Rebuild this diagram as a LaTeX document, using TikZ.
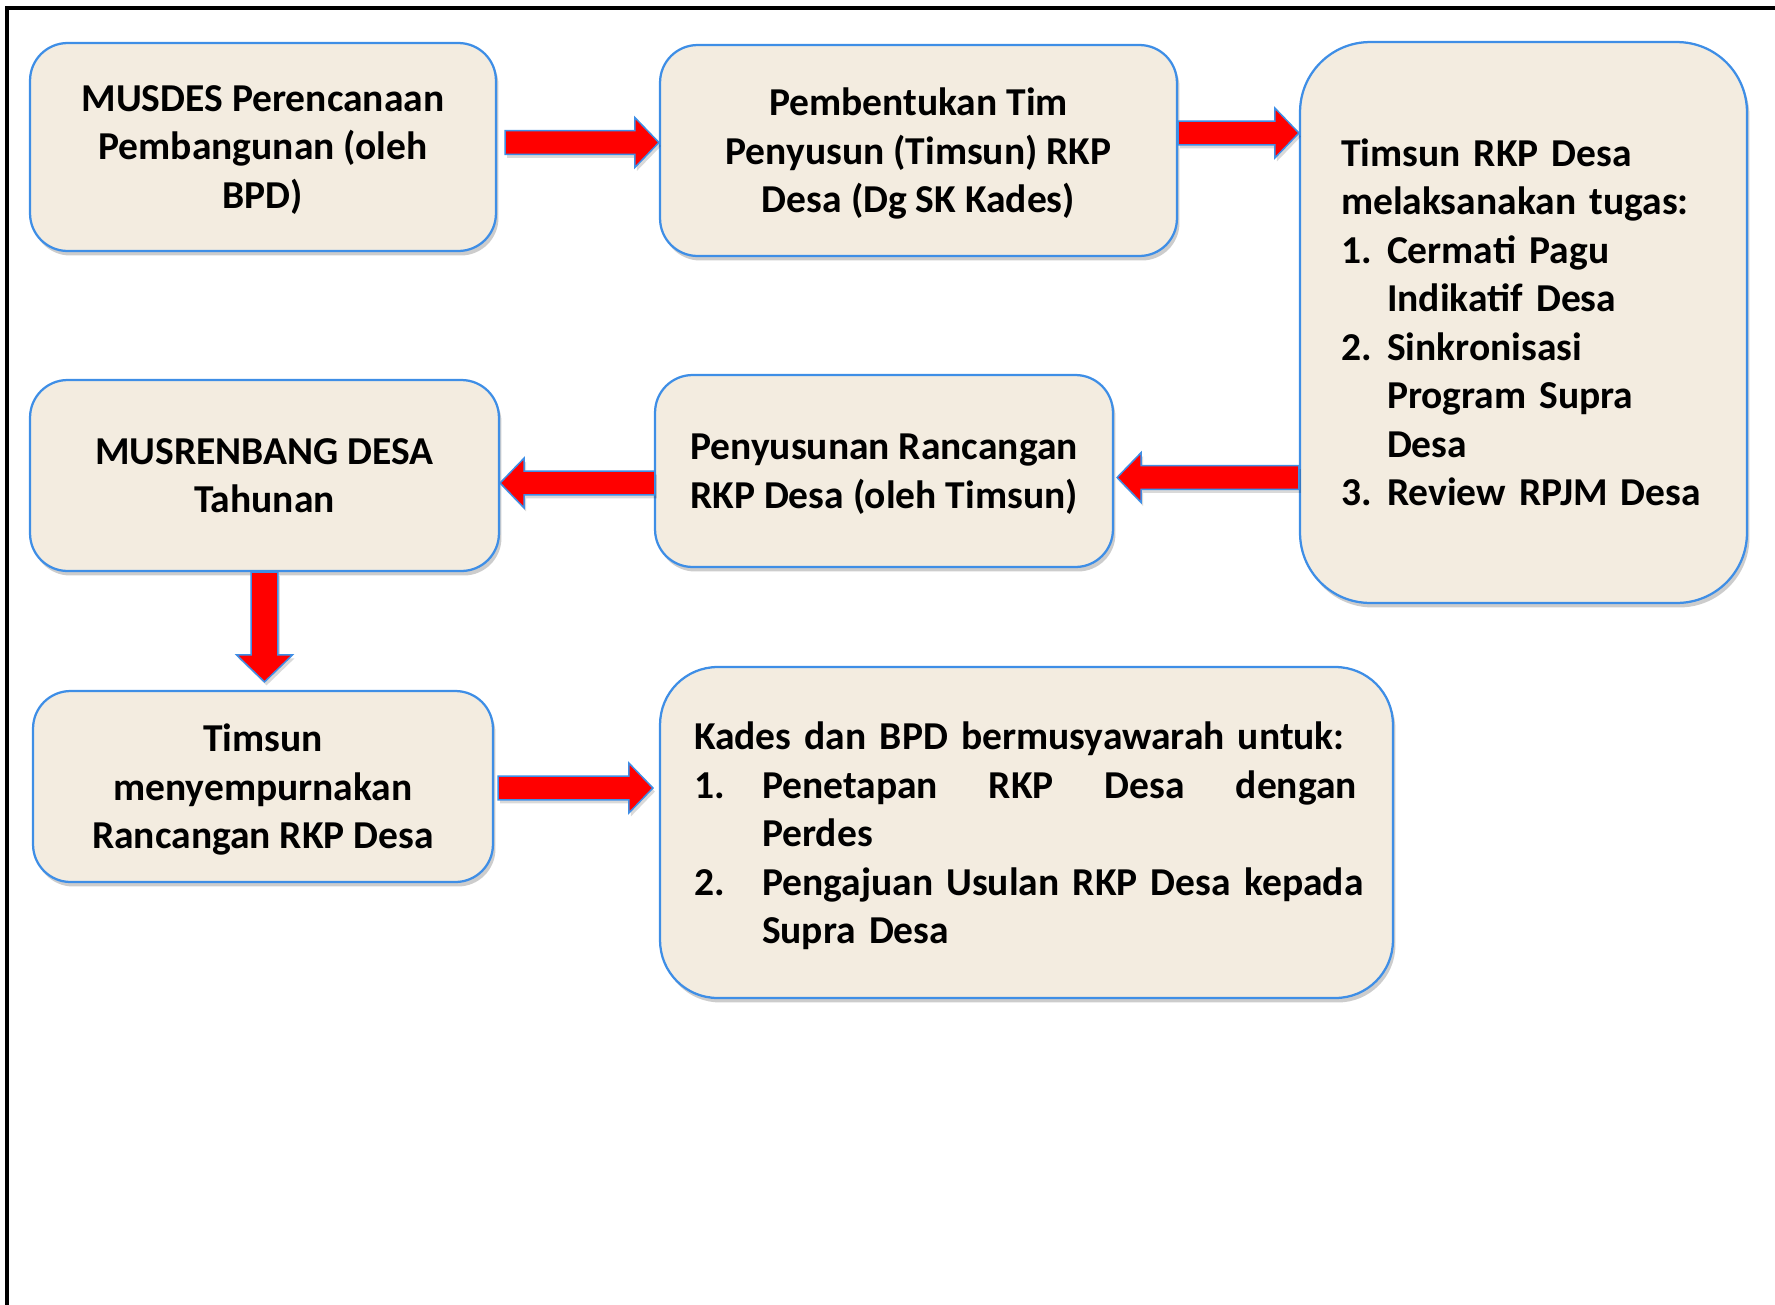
\documentclass[tikz,border=0pt]{standalone}
\usepackage{fontspec}
\setmainfont{Carlito}
\usetikzlibrary{calc,shadows}
\definecolor{boxfill}{RGB}{243,236,224}
\definecolor{boxline}{RGB}{62,142,230}
\tikzset{
  box/.style={draw=boxline, fill=boxfill, line width=0.045cm, rounded corners=0.75cm,
    drop shadow={shadow xshift=0.05cm, shadow yshift=-0.09cm, opacity=0.2, fill=black},
    inner sep=0pt, text depth=0pt, align=center, font=\fontsize{22.5}{27.6}\selectfont\bfseries},
  listbox/.style={box, text depth={}, align=left},
  redarrow/.style={draw=boxline, fill=red, line width=0.03cm, line join=miter,
    drop shadow={shadow xshift=0.04cm, shadow yshift=-0.07cm, opacity=0.15, fill=black}}
}
% block arrow from #2 to #3, #1 scales its width
\newcommand{\fatarrow}[3][1]{%
  \draw[redarrow] let \p1=(#2), \p2=(#3),
    \n1={atan2(\y2-\y1,\x2-\x1)}, \n2={veclen(\x2-\x1,\y2-\y1)} in
    [shift={(\p1)}, rotate=\n1]
    (0pt,{-#1*6.8pt}) -- ({\n2-#1*13.7pt},{-#1*6.8pt}) -- ({\n2-#1*13.7pt},{-#1*14.2pt})
    -- ({\n2+0pt},0pt) -- ({\n2-#1*13.7pt},{#1*14.2pt}) -- ({\n2-#1*13.7pt},{#1*6.8pt})
    -- (0pt,{#1*6.8pt}) -- cycle;}
\newcommand{\numitem}[2]{\makebox[#1][l]{#2}}
\begin{document}
\begin{tikzpicture}[x=0.02cm, y=-0.02cm]
\useasboundingbox (0,0) rectangle (1775,1305);
% Frame
\draw[line width=0.08cm] (7,1330) -- (7,8) -- (1800,8);
% Boxes
\node[box, minimum width=9.32cm, minimum height=4.16cm] (musdes) at (263,147)
  {MUSDES Perencanaan\\Pembangunan (oleh\\BPD)};
\node[box, minimum width=10.34cm, minimum height=4.22cm] (timbentuk) at (918.5,150.5)
  {Pembentukan Tim\\Penyusun (Timsun) RKP\\Desa (Dg SK Kades)};
\node[listbox, minimum width=8.94cm, minimum height=11.22cm, rounded corners=1.4cm,
  text width=7.3cm] (tugas) at (1523.5,322.5)
  {Timsun RKP Desa\\
   melaksanakan tugas:\\
   \numitem{0.92cm}{1.}Cermati Pagu\\
   \hspace*{0.92cm}Indikatif Desa\\
   \numitem{0.92cm}{2.}Sinkronisasi\\
   \hspace*{0.92cm}Program Supra\\
   \hspace*{0.92cm}Desa\\
   \numitem{0.92cm}{3.}Review RPJM Desa};
\node[box, minimum width=9.38cm, minimum height=3.82cm] (musrenbang) at (264.5,475.5)
  {MUSRENBANG DESA\\Tahunan};
\node[box, minimum width=9.16cm, minimum height=3.84cm] (rancangan) at (884,471)
  {Penyusunan Rancangan\\RKP Desa (oleh Timsun)};
\node[box, minimum width=9.2cm, minimum height=3.82cm] (penyempurnaan) at (263,786.5)
  {Timsun\\menyempurnakan\\Rancangan RKP Desa};
\node[listbox, minimum width=14.66cm, minimum height=6.62cm, rounded corners=1.15cm,
  text width=13.3cm, text height=19.6pt] (musyawarah) at (1026.5,832.5)
  {Kades dan BPD bermusyawarah untuk:\\
   \numitem{1.36cm}{1.}\makebox[11.9cm][l]{Penetapan\hfill RKP\hfill Desa\hfill dengan}\\
   \hspace*{1.36cm}Perdes\\
   \numitem{1.36cm}{2.}\mbox{Pengajuan Usulan RKP Desa kepada}\\
   \hspace*{1.36cm}Supra Desa};
% Arrows
\coordinate (a1s) at ($(musdes.east)+(8,-4.5)$);
\fatarrow{a1s}{a1s -| timbentuk.west}
\coordinate (a2s) at ($(timbentuk.east)+(0,-17.5)$);
\fatarrow{a2s}{a2s -| tugas.west}
\coordinate (a3e) at ($(rancangan.east)+(3,6.5)$);
\fatarrow{a3e -| tugas.west}{a3e}
\coordinate (a4s) at ($(rancangan.west)+(1,12)$);
\fatarrow{a4s}{a4s -| musrenbang.east}
\coordinate (a5e) at ($(penyempurnaan.north)+(0,-8)$);
\fatarrow[1.12]{musrenbang.south}{musrenbang.south |- a5e}
\coordinate (a6s) at ($(penyempurnaan.east)+(4,1.5)$);
\coordinate (a6e) at ($(a6s -| musyawarah.west)+(-6,0)$);
\fatarrow{a6s}{a6e}
\end{tikzpicture}
\end{document}
